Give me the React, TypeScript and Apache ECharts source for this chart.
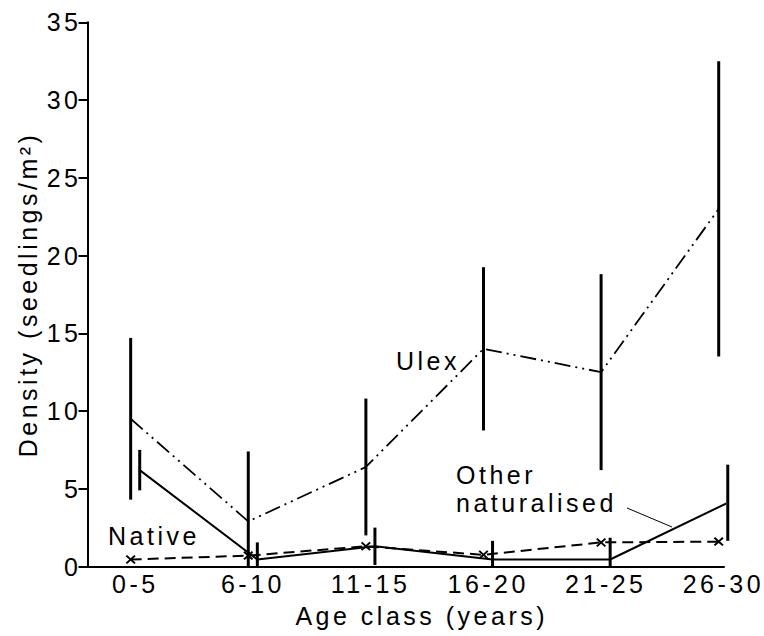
import React, { useEffect, useRef } from 'react';
import * as echarts from 'echarts';

const categories = ['0-5', '6-10', '11-15', '16-20', '21-25', '26-30'];
const ulexMean = [9.5, 2.9, 6.4, 14.0, 12.5, 23.0];
const ulexSE = [5.2, 4.5, 4.4, 5.25, 6.3, 9.5];
const otherMean = [6.2, 0.45, 1.3, 0.45, 0.45, 4.1];
const otherSE = [1.3, 1.1, 1.2, 1.2, 1.4, 2.45];
const nativeMean = [0.45, 0.7, 1.3, 0.75, 1.55, 1.6];

const OTHER_SHIFT = 0.077;
const LABEL_SHIFT = 0.04;
const FONT = '"Liberation Sans", Arial, Helvetica, sans-serif';
const X_MARK =
  'path://M0,1.4 L1.4,0 L5,3.6 L8.6,0 L10,1.4 L6.4,5 L10,8.6 L8.6,10 L5,6.4 L1.4,10 L0,8.6 L3.6,5 Z';

function errorSeries(name: string, means: number[], ses: number[], shift: number) {
  return {
    type: 'custom',
    name,
    clip: false,
    z: 4,
    data: means.map((m, i) => [i + shift, Math.max(0, m - ses[i]), m + ses[i]]),
    encode: { x: 0, y: [1, 2] },
    renderItem: (_params: any, api: any) => {
      const top = api.coord([api.value(0), api.value(2)]);
      const bot = api.coord([api.value(0), api.value(1)]);
      return {
        type: 'line',
        shape: { x1: top[0], y1: top[1], x2: bot[0], y2: bot[1] },
        style: { stroke: '#000', lineWidth: 3 },
      };
    },
  };
}

export default function App() {
  const ref = useRef<HTMLDivElement>(null);
  useEffect(() => {
    if (!ref.current) return;
    const chart = echarts.init(ref.current, undefined, { renderer: 'svg' });
    const textBase = { fill: '#000', fontSize: 25, fontFamily: FONT };
    chart.setOption({
      animation: false,
      backgroundColor: '#fff',
      textStyle: { fontFamily: FONT, color: '#000' },
      grid: { left: 87.5, right: 40, top: 22.3, bottom: 69.5, containLabel: false },
      xAxis: {
        type: 'value',
        min: -0.367,
        max: 5.045,
        splitLine: { show: false },
        axisLine: { show: true, onZero: false, lineStyle: { color: '#000', width: 2 } },
        axisTick: { show: false },
        axisLabel: {
          customValues: categories.map((_, i) => i + LABEL_SHIFT),
          formatter: (v: number) => categories[Math.round(v - LABEL_SHIFT)] ?? '',
          color: '#000',
          fontSize: 25,
          fontFamily: FONT,
          margin: 5,
        },
        name: 'Age class (years)',
        nameLocation: 'middle',
        nameGap: 37,
        nameTextStyle: { color: '#000', fontSize: 25, fontFamily: FONT, padding: [0, 0, 0, 32] },
      },
      yAxis: {
        type: 'value',
        min: 0,
        max: 35,
        interval: 5,
        splitLine: { show: false },
        axisLine: { show: true, onZero: false, lineStyle: { color: '#000', width: 2 } },
        axisTick: { show: true, length: 9, lineStyle: { color: '#000', width: 2 } },
        axisLabel: { color: '#000', fontSize: 25, fontFamily: FONT, margin: 6 },
        name: 'Density (seedlings/m²)',
        nameLocation: 'middle',
        nameGap: 47,
        nameTextStyle: { color: '#000', fontSize: 25, fontFamily: FONT },
      },
      series: [
        {
          type: 'line',
          name: 'Ulex',
          clip: false,
          symbol: 'none',
          data: ulexMean.map((v, i) => [i, v]),
          lineStyle: { color: '#000', width: 1.8, type: [16, 5, 2, 5, 2, 5] },
        },
        {
          type: 'line',
          name: 'Other naturalised',
          clip: false,
          symbol: 'none',
          data: otherMean.map((v, i) => [i + OTHER_SHIFT, v]),
          lineStyle: { color: '#000', width: 2, type: 'solid' },
        },
        {
          type: 'line',
          name: 'Native',
          clip: false,
          symbol: X_MARK,
          symbolSize: [10, 9],
          itemStyle: { color: '#000' },
          data: nativeMean.map((v, i) => [i, v]),
          lineStyle: { color: '#000', width: 2, type: [11, 6] },
        },
        errorSeries('Ulex SE', ulexMean, ulexSE, 0),
        errorSeries('Other naturalised SE', otherMean, otherSE, OTHER_SHIFT),
      ],
      graphic: [
        { type: 'text', left: 396, top: 348, style: { ...textBase, text: 'Ulex' } },
        { type: 'text', left: 108, top: 523, style: { ...textBase, text: 'Native' } },
        { type: 'text', left: 456, top: 462, style: { ...textBase, text: 'Other' } },
        { type: 'text', left: 456, top: 490, style: { ...textBase, text: 'naturalised' } },
        {
          type: 'line',
          shape: { x1: 627, y1: 508, x2: 672, y2: 527 },
          style: { stroke: '#000', lineWidth: 1 },
        },
      ],
    });
    return () => chart.dispose();
  }, []);
  return (
    <div
      ref={ref}
      style={{ position: 'fixed', left: 0, top: 0, width: 764, height: 636, letterSpacing: '3.5px', background: '#fff' }}
    />
  );
}
